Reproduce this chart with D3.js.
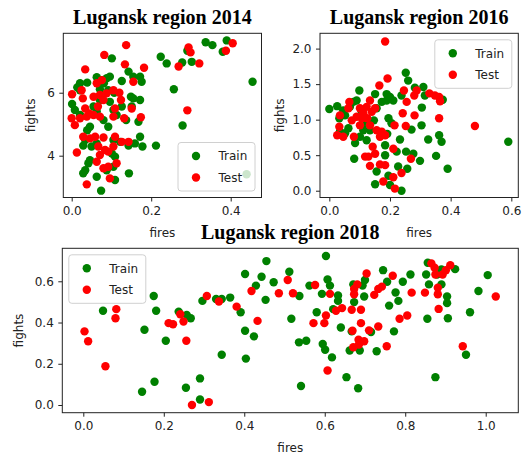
<!DOCTYPE html>
<html>
<head>
<meta charset="utf-8">
<script src="https://cdn.jsdelivr.net/npm/d3@7"></script>
<style>
  body { margin: 0; background: #fff; }
  text { font-family: 'DejaVu Sans', sans-serif; }
</style>
</head>
<body>
<div id="chart"></div>
<script>
const seriesNames = ['Train', 'Test'];
const seriesColors = ['green', 'red'];
const xLabel = 'fires';
const yLabel = 'fights';

const train2014 = [
  [0.337, 7.60], [0.354, 7.51], [0.390, 7.66], [0.380, 7.30], [0.291, 7.33],
  [0.302, 6.98], [0.278, 6.96], [0.224, 7.14], [0.239, 6.93], [0.257, 6.11],
  [0.279, 4.96], [0.455, 6.35], [0.212, 4.32], [0.440, 3.41], [0.101, 7.09],
  [0.001, 5.64], [0.014, 6.17], [0.021, 6.08], [0.039, 6.32], [0.063, 6.49],
  [0.076, 6.40], [0.088, 6.46], [0.096, 6.51], [0.081, 6.30], [0.071, 6.11],
  [0.092, 6.08], [0.107, 6.00], [0.126, 6.37], [0.143, 6.67], [0.155, 6.51],
  [0.172, 6.51], [0.176, 6.35], [0.149, 5.87], [0.155, 5.82], [0.172, 5.77],
  [0.151, 5.56], [0.168, 5.08], [0.172, 4.60], [0.178, 4.29], [0.143, 4.32],
  [0.159, 4.39], [0.122, 4.44], [0.105, 4.50], [0.113, 5.29], [0.105, 5.45],
  [0.092, 4.92], [0.080, 5.13], [0.063, 5.40], [0.055, 5.56], [0.046, 4.92],
  [0.039, 4.81], [0.034, 4.50], [0.029, 4.32], [0.050, 4.29], [0.063, 4.39],
  [0.046, 3.86], [0.034, 3.54], [0.029, 3.44], [0.042, 3.76], [0.063, 3.33],
  [0.074, 2.89], [0.088, 3.54], [0.109, 3.23], [0.105, 3.65], [0.144, 3.44],
  [0.101, 4.07], [0.109, 3.97], [0.021, 5.29], [0.008, 5.45], [0.021, 6.30],
  [0.071, 5.77], [0.096, 5.71], [0.126, 5.56], [0.137, 5.13]
];
const test2014 = [
  [0.405, 7.57], [0.388, 7.33], [0.294, 7.44], [0.299, 7.28], [0.269, 6.83],
  [0.321, 6.93], [0.291, 5.44], [0.137, 7.51], [0.082, 7.20], [0.134, 6.90],
  [0.182, 6.79], [0.034, 6.74], [0.001, 5.95], [0.025, 6.08], [0.028, 5.82],
  [0.034, 5.50], [0.044, 5.34], [0.055, 5.87], [0.063, 6.30], [0.076, 6.40],
  [0.071, 5.93], [0.066, 5.56], [0.080, 5.77], [0.088, 5.98], [0.105, 6.08],
  [0.120, 6.00], [0.124, 5.77], [0.109, 5.50], [0.105, 5.24], [0.132, 5.19],
  [0.151, 5.50], [0.155, 6.35], [0.174, 5.22], [0.000, 5.19], [0.008, 4.97],
  [0.021, 5.19], [0.038, 5.24], [0.055, 5.29], [0.071, 5.24], [0.029, 4.60],
  [0.046, 4.55], [0.059, 4.60], [0.067, 4.29], [0.080, 4.58], [0.092, 4.13],
  [0.105, 4.29], [0.109, 4.60], [0.126, 4.44], [0.143, 4.44], [0.013, 4.10],
  [0.063, 3.81], [0.080, 3.60], [0.092, 3.65], [0.113, 3.76], [0.096, 3.28],
  [0.038, 3.09], [0.071, 4.02], [0.084, 4.18]
];

const train2016 = [
  [0.000, 1.15], [0.026, 1.19], [0.590, 0.69], [0.390, 0.31], [0.370, 0.69],
  [0.362, 0.78], [0.374, 1.28], [0.352, 0.49], [0.326, 0.72], [0.305, 1.17],
  [0.304, 0.92], [0.299, 0.42], [0.277, 0.52], [0.257, 0.31], [0.253, 0.55],
  [0.252, 1.66], [0.260, 1.55], [0.282, 1.45], [0.310, 1.46], [0.315, 1.34],
  [0.271, 0.86], [0.238, 1.34], [0.233, 0.72], [0.222, 0.55], [0.227, 0.34],
  [0.238, 0.00], [0.200, 0.08], [0.195, 0.21], [0.151, 0.09], [0.156, 0.27],
  [0.184, 0.50], [0.184, 0.64], [0.191, 0.80], [0.205, 0.95], [0.195, 1.02],
  [0.189, 1.27], [0.200, 1.32], [0.189, 1.36], [0.173, 1.25], [0.151, 1.36],
  [0.156, 1.16], [0.147, 0.99], [0.134, 0.85], [0.123, 0.95], [0.099, 1.41],
  [0.090, 1.27], [0.079, 1.25], [0.068, 1.18], [0.052, 1.06], [0.063, 0.88],
  [0.052, 0.81], [0.035, 0.83], [0.033, 1.02], [0.085, 0.67], [0.082, 0.45],
  [0.101, 0.76], [0.112, 0.85], [0.123, 0.71], [0.046, 1.13], [0.107, 1.11],
  [0.211, 1.27]
];
const test2016 = [
  [0.184, 2.10], [0.192, 1.58], [0.165, 1.48], [0.246, 1.41], [0.255, 1.25],
  [0.280, 1.34], [0.288, 1.41], [0.330, 1.37], [0.348, 1.34], [0.362, 1.32],
  [0.365, 1.26], [0.362, 1.02], [0.480, 0.91], [0.281, 1.06], [0.242, 1.09],
  [0.252, 0.91], [0.215, 0.92], [0.269, 0.45], [0.211, 0.59], [0.238, 0.25],
  [0.211, 0.19], [0.216, 0.03], [0.178, 0.13], [0.184, 0.36], [0.167, 0.37],
  [0.134, 0.35], [0.129, 0.48], [0.118, 0.48], [0.151, 0.52], [0.143, 0.62],
  [0.156, 0.85], [0.173, 0.83], [0.184, 0.78], [0.167, 0.76], [0.134, 0.92],
  [0.125, 1.02], [0.112, 1.09], [0.090, 1.04], [0.101, 1.16], [0.123, 1.18],
  [0.140, 1.11], [0.151, 1.16], [0.134, 1.27], [0.074, 0.99], [0.063, 1.16],
  [0.066, 1.25], [0.035, 1.06], [0.033, 0.90], [0.026, 0.78], [0.046, 0.76],
  [0.081, 0.76], [0.101, 0.92], [0.107, 1.02]
];

const train2018 = [
  [0.049, 0.457], [0.175, 0.529], [0.181, 0.457], [0.152, 0.365], [0.205, 0.312],
  [0.237, 0.453], [0.257, 0.437], [0.267, 0.421], [0.296, 0.505], [0.330, 0.514],
  [0.344, 0.514], [0.365, 0.521], [0.391, 0.450], [0.402, 0.360], [0.404, 0.225],
  [0.424, 0.333], [0.402, 0.635], [0.429, 0.579], [0.443, 0.622], [0.453, 0.510],
  [0.455, 0.698], [0.344, 0.244], [0.290, 0.129], [0.255, 0.084], [0.290, 0.027],
  [0.177, 0.113], [0.146, 0.064], [0.473, 0.595], [0.512, 0.646], [0.517, 0.418],
  [0.537, 0.529], [0.541, 0.092], [0.536, 0.304], [0.554, 0.312], [0.562, 0.579],
  [0.580, 0.450], [0.593, 0.539], [0.603, 0.723], [0.607, 0.609], [0.613, 0.579],
  [0.595, 0.296], [0.601, 0.268], [0.618, 0.231], [0.633, 0.531], [0.633, 0.505],
  [0.621, 0.465], [0.640, 0.376], [0.654, 0.135], [0.683, 0.081], [0.671, 0.585],
  [0.673, 0.499], [0.667, 0.357], [0.662, 0.264], [0.687, 0.264], [0.698, 0.526],
  [0.694, 0.579], [0.700, 0.606], [0.715, 0.354], [0.729, 0.261], [0.745, 0.654],
  [0.755, 0.598], [0.760, 0.482], [0.776, 0.546], [0.783, 0.505], [0.772, 0.357],
  [0.794, 0.598], [0.813, 0.633], [0.852, 0.633], [0.856, 0.690], [0.855, 0.418],
  [0.859, 0.585], [0.875, 0.135], [0.879, 0.633], [0.890, 0.657], [0.890, 0.585],
  [0.904, 0.526], [0.904, 0.494], [0.906, 0.421], [0.924, 0.659], [0.951, 0.244],
  [0.961, 0.450], [0.982, 0.553], [1.005, 0.630]
];
const test2018 = [
  [0.003, 0.357], [0.012, 0.309], [0.055, 0.188], [0.082, 0.465], [0.080, 0.421],
  [0.212, 0.397], [0.223, 0.392], [0.241, 0.440], [0.249, 0.405], [0.256, 0.312],
  [0.270, 0.000], [0.312, 0.014], [0.307, 0.529], [0.337, 0.502], [0.381, 0.477],
  [0.418, 0.553], [0.433, 0.408], [0.508, 0.606], [0.486, 0.542], [0.521, 0.542],
  [0.576, 0.582], [0.572, 0.397], [0.599, 0.397], [0.603, 0.434], [0.613, 0.539],
  [0.607, 0.167], [0.628, 0.457], [0.643, 0.470], [0.667, 0.462], [0.690, 0.462],
  [0.673, 0.537], [0.673, 0.563], [0.681, 0.585], [0.690, 0.397], [0.669, 0.360],
  [0.710, 0.362], [0.684, 0.317], [0.698, 0.309], [0.671, 0.280], [0.685, 0.293],
  [0.704, 0.638], [0.723, 0.534], [0.733, 0.563], [0.742, 0.574], [0.733, 0.381],
  [0.754, 0.285], [0.769, 0.627], [0.786, 0.418], [0.805, 0.434], [0.816, 0.545],
  [0.849, 0.545], [0.865, 0.687], [0.873, 0.666], [0.875, 0.633], [0.881, 0.569],
  [0.881, 0.537], [0.883, 0.466], [0.893, 0.633], [0.901, 0.654], [0.912, 0.678],
  [0.943, 0.285], [1.025, 0.526]
];

const xTicks2014 = [0, 0.2, 0.4];
const yTicks2014 = [4, 6];
const xTicks2016 = [0, 0.2, 0.4, 0.6];
const yTicks2016 = [0, 0.5, 1.0, 1.5, 2.0];
const xTicks2018 = [0, 0.2, 0.4, 0.6, 0.8, 1.0];
const yTicks2018 = [0, 0.2, 0.4, 0.6];

const width = 523;
const height = 457;
const radius = 4.2;

const panels = [
  {
    title: 'Lugansk region 2014', series: [train2014, test2014],
    box: { left: 63.3, right: 261.5, top: 33.3, bottom: 197.5 },
    xDomain: [-0.0211, 0.4775], yDomain: [2.673, 7.886],
    xTicks: xTicks2014, yTicks: yTicks2014, yFormat: d3.format('d'),
    legend: 'lower right', yLabelX: 35
  },
  {
    title: 'Lugansk region 2016', series: [train2016, test2016],
    box: { left: 320, right: 518.3, top: 33.3, bottom: 197.5 },
    xDomain: [-0.0307, 0.623], yDomain: [-0.0955, 2.2154],
    xTicks: xTicks2016, yTicks: yTicks2016, yFormat: d3.format('.1f'),
    legend: 'upper right', yLabelX: 284
  },
  {
    title: 'Lugansk region 2018', series: [train2018, test2018],
    box: { left: 62.3, right: 518.3, top: 248.3, bottom: 412.7 },
    xDomain: [-0.0522, 1.081], yDomain: [-0.0373, 0.76],
    xTicks: xTicks2018, yTicks: yTicks2018, yFormat: d3.format('.1f'),
    legend: 'upper left', yLabelX: 23
  }
];

const svg = d3.select('#chart')
  .append('svg')
  .attr('width', width)
  .attr('height', height);

svg.append('rect')
  .attr('width', width)
  .attr('height', height)
  .attr('fill', '#fff');

function drawPanel(p) {
  const b = p.box;
  const x = d3.scaleLinear().domain(p.xDomain).range([b.left, b.right]);
  const y = d3.scaleLinear().domain(p.yDomain).range([b.bottom, b.top]);
  const g = svg.append('g');

  // points: train first, test on top
  p.series.forEach((data, i) => {
    g.append('g')
      .selectAll('circle')
      .data(data)
      .enter().append('circle')
        .attr('cx', d => x(d[0]))
        .attr('cy', d => y(d[1]))
        .attr('r', radius)
        .attr('fill', seriesColors[i]);
  });

  const xAxis = d3.axisBottom(x).tickValues(p.xTicks)
    .tickFormat(d3.format('.1f')).tickSize(4).tickPadding(4.5).tickSizeOuter(0);
  const yAxis = d3.axisLeft(y).tickValues(p.yTicks)
    .tickFormat(p.yFormat).tickSize(4).tickPadding(4.5).tickSizeOuter(0);

  const gx = g.append('g').attr('transform', `translate(0,${b.bottom})`).call(xAxis);
  const gy = g.append('g').attr('transform', `translate(${b.left},0)`).call(yAxis);
  [gx, gy].forEach(a => {
    a.select('.domain').remove();
    a.selectAll('line').attr('stroke', '#222');
    a.selectAll('text')
      .attr('fill', '#222')
      .style('font-family', 'DejaVu Sans')
      .style('font-size', '12px');
  });

  g.append('rect')
    .attr('x', b.left).attr('y', b.top)
    .attr('width', b.right - b.left).attr('height', b.bottom - b.top)
    .attr('fill', 'none').attr('stroke', '#222').attr('stroke-width', 1);

  // title and axis labels
  g.append('text')
    .attr('x', (b.left + b.right) / 2).attr('y', b.top - 9.5)
    .attr('text-anchor', 'middle')
    .style('font-family', "'Liberation Serif', 'Times New Roman', serif")
    .style('font-weight', 'bold').style('font-size', '20px')
    .attr('fill', '#000')
    .text(p.title);

  g.append('text')
    .attr('x', (b.left + b.right) / 2).attr('y', b.bottom + 39.5)
    .attr('text-anchor', 'middle')
    .style('font-size', '12px').attr('fill', '#222')
    .text(xLabel);

  g.append('text')
    .attr('transform', `translate(${p.yLabelX},${(b.top + b.bottom) / 2}) rotate(-90)`)
    .attr('text-anchor', 'middle')
    .style('font-size', '12px').attr('fill', '#222')
    .text(yLabel);

  // legend
  const lw = 77, lh = 48.5, pad = 6.5;
  const lx = p.legend.includes('left') ? b.left + pad : b.right - pad - lw;
  const ly = p.legend.includes('upper') ? b.top + pad : b.bottom - pad - lh;
  const lg = g.append('g').attr('transform', `translate(${lx},${ly})`);
  lg.append('rect')
    .attr('width', lw).attr('height', lh).attr('rx', 3)
    .attr('fill', '#fff').attr('fill-opacity', 0.8)
    .attr('stroke', '#d0d0d0');
  seriesNames.forEach((name, i) => {
    const ry = 13.5 + i * 21.5;
    lg.append('circle').attr('cx', 18).attr('cy', ry).attr('r', radius)
      .attr('fill', seriesColors[i]);
    lg.append('text').attr('x', 40.5).attr('y', ry + 4.4)
      .style('font-size', '12px').attr('fill', '#222')
      .text(name);
  });
}

panels.forEach(drawPanel);
</script>
</body>
</html>
